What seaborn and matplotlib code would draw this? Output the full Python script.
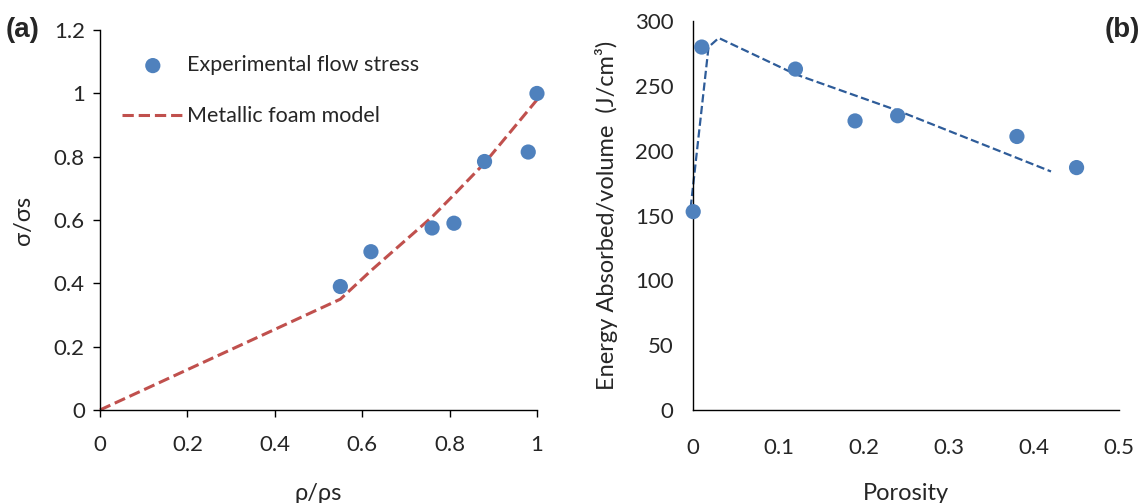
import seaborn as sns
import pandas as pd
import numpy as np
import matplotlib.pyplot as plt

# panel (a) - relative density vs relative flow stress
rho_exp = [0.55, 0.62, 0.76, 0.81, 0.88, 0.98, 1.0]
sig_exp = [0.39, 0.50, 0.575, 0.59, 0.785, 0.815, 1.0]
rho_model = [0.0, 0.55, 0.62, 0.76, 0.81, 0.88, 1.0]
sig_model = [0.0, 0.35, 0.44, 0.61, 0.68, 0.78, 0.98]

# panel (b) - porosity vs energy absorbed
por_exp = [0.0, 0.01, 0.12, 0.19, 0.24, 0.38, 0.45]
eng_exp = [153, 280, 263, 223, 227, 211, 187]
por_fit = [-0.003, 0.018, 0.03, 0.12, 0.24, 0.42]
eng_fit = [156, 280, 287, 259, 231, 184]

sns.set_style('white')
plt.rcParams['font.family'] = ['Lato', 'DejaVu Sans']

blue = '#4F81BD'
red = '#C0504D'
navy = '#2E5C99'

fig = plt.figure(figsize=(11.42, 5.03), dpi=100)
ax1 = fig.add_axes([0.0876, 0.185, 0.3826, 0.755])
ax2 = fig.add_axes([0.607, 0.185, 0.373, 0.773])

# (a)
sns.lineplot(x=rho_model, y=sig_model, ax=ax1, sort=False, color=red,
             linestyle='--', linewidth=2.2, label='Metallic foam model')
sns.scatterplot(x=rho_exp, y=sig_exp, ax=ax1, color=blue, s=120,
                edgecolor='none', label='Experimental flow stress', zorder=3)
ax1.set_xlim(0, 1)
ax1.set_ylim(0, 1.2)
ax1.set_xticks(np.arange(0, 1.01, 0.2))
ax1.set_xticklabels(['0', '0.2', '0.4', '0.6', '0.8', '1'])
ax1.set_yticks(np.arange(0, 1.21, 0.2))
ax1.set_yticklabels(['0', '0.2', '0.4', '0.6', '0.8', '1', '1.2'])
ax1.tick_params(axis='x', length=5, width=1, pad=13, labelsize=16, color='black', bottom=True)
ax1.tick_params(axis='y', length=5, width=1, pad=6, labelsize=16, color='black', left=True)
ax1.set_xlabel('ρ/ρs', fontsize=17, labelpad=20)
ax1.set_ylabel('σ/σs', fontsize=17, labelpad=14)
for side in ['top', 'right']:
    ax1.spines[side].set_visible(False)
for side in ['left', 'bottom']:
    ax1.spines[side].set_color('black')
    ax1.spines[side].set_linewidth(1)
h, l = ax1.get_legend_handles_labels()
ax1.legend(h[::-1], l[::-1], loc='upper left', bbox_to_anchor=(0.005, 0.985),
           frameon=False, fontsize=15.5, handlelength=2.9, handletextpad=0.15,
           labelspacing=1.45)
ax1.margins(0)

# (b)
sns.lineplot(x=por_fit, y=eng_fit, ax=ax2, sort=False, color=navy,
             linestyle='--', linewidth=1.6)
sns.scatterplot(x=por_exp, y=eng_exp, ax=ax2, color=blue, s=120,
                edgecolor='none', zorder=3)
ax2.set_xlim(0, 0.5)
ax2.set_ylim(0, 300)
ax2.set_xticks(np.arange(0, 0.51, 0.1))
ax2.set_xticklabels(['0', '0.1', '0.2', '0.3', '0.4', '0.5'])
ax2.set_yticks(np.arange(0, 301, 50))
ax2.tick_params(axis='x', length=0, pad=20, labelsize=16)
ax2.tick_params(axis='y', length=0, pad=14, labelsize=16)
ax2.set_xlabel('Porosity', fontsize=17, labelpad=18)
ax2.set_ylabel('Energy Absorbed/volume  (J/cm³)', fontsize=17, labelpad=12)
for side in ['top', 'right']:
    ax2.spines[side].set_visible(False)
for side in ['left', 'bottom']:
    ax2.spines[side].set_color('black')
    ax2.spines[side].set_linewidth(1)
for a in (ax1, ax2):
    for c in a.collections:
        c.set_clip_on(False)
    for ln in a.lines:
        ln.set_clip_on(False)

fig.text(0.005, 0.94, '(a)', fontsize=20, fontweight='bold', family='Liberation Sans', va='center')
fig.text(0.998, 0.94, '(b)', fontsize=20, fontweight='bold', family='Liberation Sans', va='center', ha='right')

fig.savefig('out.png', dpi=100)
